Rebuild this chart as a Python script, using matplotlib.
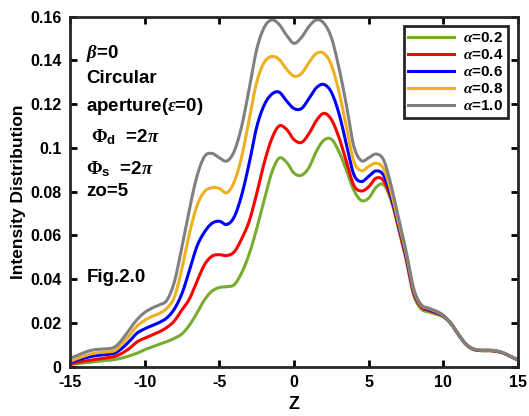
import numpy as np
import matplotlib
matplotlib.use("Agg")
import matplotlib.pyplot as plt

plt.rcParams['font.family'] = 'Liberation Sans'
plt.rcParams['font.weight'] = 'bold'
plt.rcParams['mathtext.fontset'] = 'custom'
plt.rcParams['mathtext.rm'] = 'Liberation Sans:bold'
plt.rcParams['mathtext.bf'] = 'Liberation Sans:bold'
plt.rcParams['mathtext.it'] = 'Liberation Serif:italic'
plt.rcParams['mathtext.sf'] = 'Liberation Serif'

# z positions (read every 0.5 off the picture)
z = np.arange(-15, 15.01, 0.5)

a02 = [0.0010, 0.0014, 0.0018, 0.0022, 0.0026, 0.0029, 0.0033, 0.0040, 0.0050, 0.0062,
       0.0078, 0.0090, 0.0103, 0.0115, 0.0130, 0.0150, 0.0190, 0.0245, 0.0305, 0.0345,
       0.0362, 0.0366, 0.0375, 0.0430, 0.0515, 0.0630, 0.0760, 0.0885, 0.0953, 0.0935,
       0.0885, 0.0875, 0.0910, 0.0985, 0.1035, 0.1040, 0.0985, 0.0900, 0.0808, 0.0760,
       0.0770, 0.0820, 0.0832, 0.0760, 0.0630, 0.0490, 0.0330, 0.0265, 0.0250, 0.0240,
       0.0228, 0.0196, 0.0147, 0.0102, 0.0079, 0.0073, 0.0073, 0.0070, 0.0062, 0.0046,
       0.0030]
a04 = [0.0012, 0.0020, 0.0026, 0.0031, 0.0036, 0.0041, 0.0047, 0.0062, 0.0085, 0.0114,
       0.0130, 0.0145, 0.0160, 0.0180, 0.0210, 0.0260, 0.0310, 0.0390, 0.0465, 0.0505,
       0.0512, 0.0508, 0.0525, 0.0585, 0.0665, 0.0790, 0.0930, 0.1040, 0.1100, 0.1085,
       0.1038, 0.1025, 0.1065, 0.1125, 0.1158, 0.1130, 0.1050, 0.0940, 0.0830, 0.0803,
       0.0822, 0.0862, 0.0850, 0.0770, 0.0640, 0.0500, 0.0340, 0.0275, 0.0258, 0.0247,
       0.0230, 0.0198, 0.0148, 0.0103, 0.0080, 0.0074, 0.0074, 0.0071, 0.0063, 0.0047,
       0.0031]
a06 = [0.0018, 0.0030, 0.0040, 0.0048, 0.0053, 0.0056, 0.0062, 0.0085, 0.0118, 0.0154,
       0.0173, 0.0188, 0.0203, 0.0224, 0.0265, 0.0335, 0.0440, 0.0550, 0.0615, 0.0655,
       0.0665, 0.0650, 0.0685, 0.0785, 0.0930, 0.1095, 0.1195, 0.1245, 0.1255, 0.1215,
       0.1180, 0.1180, 0.1225, 0.1275, 0.1290, 0.1255, 0.1160, 0.1020, 0.0880, 0.0846,
       0.0870, 0.0895, 0.0875, 0.0780, 0.0650, 0.0510, 0.0350, 0.0280, 0.0262, 0.0250,
       0.0232, 0.0199, 0.0149, 0.0104, 0.0081, 0.0075, 0.0075, 0.0072, 0.0063, 0.0047,
       0.0031]
a08 = [0.0025, 0.0038, 0.0050, 0.0060, 0.0065, 0.0068, 0.0074, 0.0105, 0.0145, 0.0186,
       0.0212, 0.0230, 0.0244, 0.0268, 0.0320, 0.0450, 0.0610, 0.0735, 0.0800, 0.0818,
       0.0815, 0.0795, 0.0845, 0.0960, 0.1130, 0.1300, 0.1390, 0.1418, 0.1405, 0.1360,
       0.1328, 0.1340, 0.1390, 0.1432, 0.1432, 0.1380, 0.1260, 0.1100, 0.0940, 0.0896,
       0.0915, 0.0930, 0.0905, 0.0800, 0.0660, 0.0520, 0.0355, 0.0282, 0.0266, 0.0253,
       0.0234, 0.0200, 0.0150, 0.0105, 0.0082, 0.0076, 0.0076, 0.0073, 0.0064, 0.0048,
       0.0032]
a10 = [0.0038, 0.0052, 0.0066, 0.0076, 0.0080, 0.0082, 0.0090, 0.0125, 0.0172, 0.0216,
       0.0248, 0.0268, 0.0283, 0.0305, 0.0390, 0.0550, 0.0720, 0.0870, 0.0960, 0.0975,
       0.0955, 0.0940, 0.0985, 0.1100, 0.1270, 0.1450, 0.1550, 0.1585, 0.1565, 0.1515,
       0.1478, 0.1505, 0.1555, 0.1585, 0.1570, 0.1505, 0.1370, 0.1200, 0.1010, 0.0942,
       0.0955, 0.0972, 0.0945, 0.0830, 0.0680, 0.0530, 0.0360, 0.0285, 0.0268, 0.0255,
       0.0235, 0.0200, 0.0150, 0.0105, 0.0082, 0.0076, 0.0076, 0.0073, 0.0064, 0.0048,
       0.0032]

series = [a02, a04, a06, a08, a10]
labels = [r'$\alpha$=0.2', r'$\alpha$=0.4', r'$\alpha$=0.6', r'$\alpha$=0.8', r'$\alpha$=1.0']
colors = ['#77AC30', '#FF0000', '#0000FF', '#EDB120', '#808080']

xticks = [-15, -10, -5, 0, 5, 10, 15]
yticks = [0, 0.02, 0.04, 0.06, 0.08, 0.1, 0.12, 0.14, 0.16]
yticklabels = ['0', '0.02', '0.04', '0.06', '0.08', '0.1', '0.12', '0.14', '0.16']


def smooth_path(x, y, n=8):
    # Catmull-Rom curve through the read points, only for drawing a round line
    x = np.asarray(x, float)
    y = np.asarray(y, float)
    yp = np.concatenate([[2 * y[0] - y[1]], y, [2 * y[-1] - y[-2]]])
    xs, ys = [], []
    for i in range(len(x) - 1):
        t = np.linspace(0, 1, n, endpoint=False)
        p0, p1, p2, p3 = yp[i], yp[i + 1], yp[i + 2], yp[i + 3]
        seg = 0.5 * (2 * p1 + (-p0 + p2) * t + (2 * p0 - 5 * p1 + 4 * p2 - p3) * t ** 2
                     + (-p0 + 3 * p1 - 3 * p2 + p3) * t ** 3)
        xs.append(x[i] + (x[i + 1] - x[i]) * t)
        ys.append(seg)
    xs.append([x[-1]])
    ys.append([y[-1]])
    return np.concatenate(xs), np.concatenate(ys)


fig = plt.figure(figsize=(5.29, 4.16), dpi=100)
ax = fig.add_axes([0.1323, 0.1185, 0.8469, 0.8415])

for s, lab, c in zip(series, labels, colors):
    xs, ys = smooth_path(z, s)
    ax.plot(xs, ys, color=c, lw=2.2, label=lab)

ax.set_xlim(-15, 15)
ax.set_ylim(0, 0.16)
ax.set_xticks(xticks)
ax.set_xticklabels([str(t) for t in xticks])
ax.set_yticks(yticks)
ax.set_yticklabels(yticklabels)
ax.tick_params(direction='in', length=5, width=2, top=True, right=True,
               labelsize=11.5, pad=6)
for sp in ax.spines.values():
    sp.set_linewidth(2)
    sp.set_color('#262626')

ax.set_xlabel('Z', fontsize=13, fontweight='bold', labelpad=4)
ax.set_ylabel('Intensity Distribution', fontsize=12.5, fontweight='bold', labelpad=3)

fs = 13.5
ax.text(-13.9, 0.143, r'$\beta$=0', fontsize=fs, va='center')
ax.text(-13.9, 0.1315, 'Circular', fontsize=fs, va='center')
ax.text(-13.9, 0.119, r'aperture($\epsilon$=0)', fontsize=fs, va='center')
ax.text(-13.9, 0.105, r' $\mathsf{\Phi}_{\mathrm{d}}$  =2$\pi$', fontsize=fs, va='center')
ax.text(-13.9, 0.0905, r'$\mathsf{\Phi}_{\mathrm{s}}$  =2$\pi$', fontsize=fs, va='center')
ax.text(-13.9, 0.080, 'zo=5', fontsize=fs, va='center')
ax.text(-13.9, 0.041, 'Fig.2.0', fontsize=fs, va='center')

leg = ax.legend(loc='upper right', bbox_to_anchor=(0.978, 0.972), fontsize=11,
                handlelength=3.0, handletextpad=0.6, borderpad=0.3, labelspacing=0.2,
                fancybox=False, framealpha=1, borderaxespad=0)
leg.get_frame().set_edgecolor('#262626')
leg.get_frame().set_linewidth(2)

fig.savefig('out.png', dpi=100)
